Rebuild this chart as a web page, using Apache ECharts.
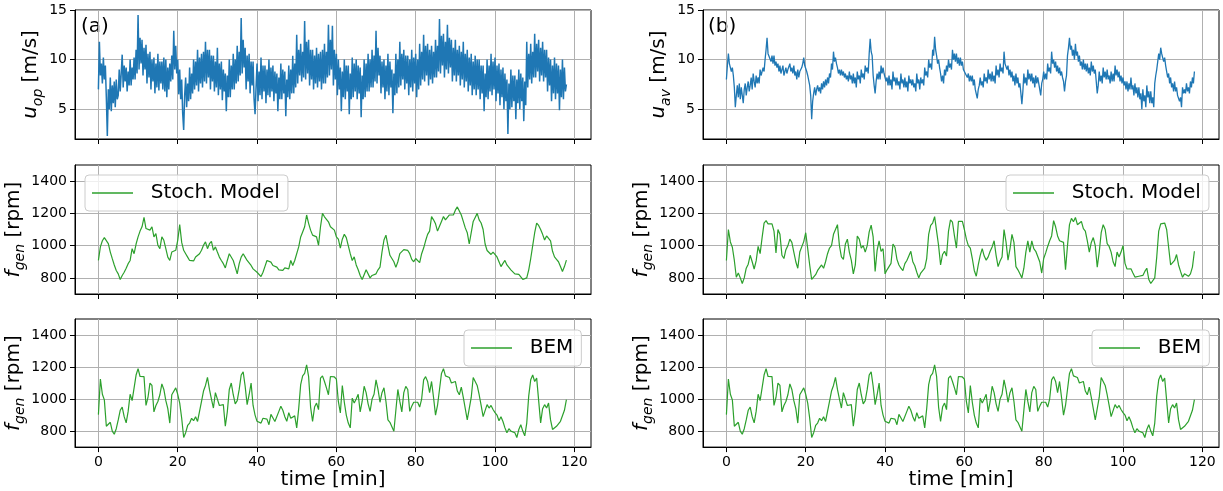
<!DOCTYPE html>
<html>
<head>
<meta charset="utf-8">
<script src="https://cdn.jsdelivr.net/npm/echarts@6/dist/echarts.min.js"></script>
<style>
  html, body { margin: 0; padding: 0; background: #fff; }
  #chart { width: 1223px; height: 491px; }
</style>
</head>
<body>
<div id="chart"></div>
<script>
// Sampling steps, in minutes
const STEP_WIND = 0.25;
const STEP_RPM = 0.5;

// (a) wind speed at the operating point [m/s], one row = 5 min
const uOp = [
  7.0, 11.8, 8.4, 9.6, 7.6, 10.2, 8.0, 9.4, 6.2, 2.3, 7.0, 5.0, 8.2, 4.8, 7.4, 5.6, 7.8, 5.2, 8.0, 6.0,
  6.4, 9.0, 6.8, 8.6, 10.5, 7.2, 9.4, 7.8, 9.2, 6.8, 8.8, 7.4, 10.0, 7.4, 9.2, 8.0, 10.2, 8.0, 11.0, 8.6,
  14.5, 9.0, 12.2, 9.6, 12.0, 8.4, 11.2, 9.0, 11.5, 7.6, 10.6, 8.2, 10.8, 7.0, 10.0, 7.8, 10.2, 6.6, 9.6, 7.2,
  10.6, 6.9, 9.8, 7.6, 9.8, 7.0, 10.2, 6.8, 10.0, 6.2, 9.2, 7.0, 9.6, 7.8, 10.4, 8.0, 12.9, 9.0, 11.4, 8.6,
  10.0, 6.5, 9.0, 6.0, 8.0, 4.6, 2.9, 6.4, 8.2, 5.2, 7.6, 5.8, 9.2, 6.0, 8.6, 6.6, 10.0, 7.0, 9.8, 7.4,
  11.0, 6.8, 10.2, 7.6, 10.6, 7.2, 10.8, 7.8, 11.8, 7.6, 11.0, 8.2, 11.0, 7.0, 10.4, 7.8, 10.4, 6.8, 9.8, 7.2,
  11.2, 6.4, 9.6, 7.0, 9.8, 5.9, 9.0, 6.8, 8.6, 4.8, 8.4, 6.2, 10.0, 6.2, 9.4, 7.0, 10.6, 7.0, 10.0, 7.6,
  11.4, 7.8, 10.8, 8.4, 14.2, 8.6, 12.0, 9.2, 11.2, 7.0, 10.4, 7.8, 10.6, 6.6, 9.8, 7.4, 9.8, 6.0, 4.5, 7.2,
  9.6, 5.8, 8.8, 6.4, 10.2, 6.0, 9.4, 6.8, 9.4, 5.6, 9.0, 6.4, 10.0, 6.2, 9.2, 6.8, 9.4, 5.8, 8.8, 6.6,
  8.6, 4.8, 8.2, 6.0, 9.6, 6.0, 9.0, 6.6, 8.8, 4.3, 8.0, 6.2, 9.4, 6.0, 9.0, 6.6, 10.4, 6.6, 9.6, 7.2,
  12.5, 7.6, 11.0, 8.4, 11.6, 7.8, 10.8, 8.2, 13.9, 8.0, 11.8, 8.6, 12.0, 7.4, 11.0, 8.0, 11.0, 7.0, 10.4, 7.6,
  11.2, 7.2, 10.6, 7.8, 10.8, 7.0, 11.0, 7.6, 11.6, 7.6, 10.8, 8.2, 13.5, 8.4, 12.0, 9.0, 13.4, 7.4, 11.0, 8.0,
  10.6, 6.4, 10.0, 7.0, 9.2, 4.8, 8.8, 6.2, 10.0, 6.0, 9.4, 6.8, 9.4, 4.5, 8.6, 6.0, 10.2, 6.2, 9.6, 6.8,
  10.0, 6.0, 9.4, 6.6, 9.2, 4.2, 8.4, 6.0, 10.0, 6.2, 9.6, 6.8, 10.6, 6.8, 10.0, 7.2, 11.0, 7.2, 10.4, 7.8,
  12.9, 7.6, 11.2, 8.4, 10.4, 6.6, 9.8, 7.2, 10.0, 6.0, 9.4, 6.8, 10.6, 6.4, 9.8, 7.2, 9.0, 4.6, 8.6, 6.4,
  10.6, 6.6, 10.0, 7.2, 11.8, 7.4, 10.6, 8.0, 11.0, 7.0, 10.4, 7.6, 10.4, 6.4, 10.0, 7.2, 11.0, 6.8, 10.2, 7.6,
  10.6, 6.2, 10.0, 7.0, 11.6, 7.4, 10.8, 8.0, 12.5, 7.8, 11.4, 8.4, 11.6, 7.4, 11.0, 8.0, 11.4, 7.6, 10.8, 8.2,
  12.0, 8.2, 11.4, 8.8, 14.1, 8.6, 12.4, 9.4, 12.6, 8.2, 11.8, 9.0, 13.5, 8.6, 12.2, 9.2, 12.0, 7.8, 11.2, 8.4,
  12.0, 7.8, 11.0, 8.4, 11.4, 7.4, 10.8, 8.0, 11.8, 7.2, 10.6, 7.8, 11.0, 6.8, 10.2, 7.4, 10.6, 6.4, 9.8, 7.0,
  10.4, 6.4, 10.0, 7.0, 10.0, 6.0, 9.4, 6.6, 9.4, 4.8, 8.6, 6.2, 10.0, 6.0, 9.4, 6.8, 10.6, 6.4, 9.8, 7.0,
  10.2, 5.8, 9.4, 6.6, 9.6, 5.4, 9.0, 6.2, 9.2, 5.0, 8.6, 5.8, 8.0, 2.5, 7.6, 5.0, 9.0, 5.2, 8.4, 5.8,
  8.4, 4.0, 8.0, 5.6, 9.0, 5.0, 8.6, 5.8, 8.2, 3.8, 7.8, 5.4, 11.8, 7.2, 10.6, 8.0, 11.6, 7.6, 10.8, 8.2,
  12.6, 8.2, 11.6, 8.8, 12.0, 7.8, 11.2, 8.4, 11.8, 7.8, 11.0, 8.2, 11.0, 6.8, 10.2, 7.4, 10.0, 5.8, 9.4, 6.6,
  10.2, 6.0, 9.6, 6.6, 9.4, 4.9, 9.0, 6.2, 10.0, 6.0, 9.2, 6.8, 7.5
];

// (b) rotor-averaged wind speed [m/s], one row = 5 min
const uAv = [
  8.0, 9.4, 10.6, 9.6, 9.6, 8.8, 9.2, 8.4, 7.2, 5.2, 6.4, 7.4, 6.2, 7.6, 6.0, 7.2, 6.4, 5.6, 7.0, 7.6,
  6.4, 7.2, 7.8, 6.8, 7.4, 8.2, 7.0, 8.6, 7.8, 7.2, 8.4, 7.6, 8.2, 7.6, 9.0, 8.4, 8.4, 9.2, 8.8, 10.0,
  11.0, 12.2, 10.6, 10.4, 10.8, 9.8, 10.4, 9.6, 10.4, 9.4, 9.8, 9.2, 9.6, 8.8, 9.4, 8.6, 9.0, 9.4, 8.4, 8.8,
  9.2, 8.6, 9.0, 8.8, 9.6, 8.8, 9.2, 8.6, 9.4, 8.4, 8.8, 8.0, 9.0, 8.2, 8.8, 8.6, 9.2, 9.6, 10.2, 9.4,
  9.4, 8.8, 8.4, 8.6, 7.4, 6.4, 4.0, 5.8, 6.6, 7.2, 6.4, 7.0, 7.4, 6.8, 7.2, 6.6, 7.6, 7.0, 7.8, 7.2,
  8.0, 7.4, 8.2, 7.6, 8.6, 8.2, 9.6, 9.0, 10.8, 9.8, 10.2, 9.6, 9.2, 8.6, 9.0, 8.4, 9.0, 8.4, 8.8, 8.2,
  8.6, 8.0, 8.4, 7.8, 8.8, 8.0, 8.4, 7.6, 8.6, 7.6, 8.2, 7.2, 8.8, 8.0, 8.4, 7.6, 9.0, 8.2, 8.6, 8.0,
  9.4, 8.8, 9.2, 8.6, 10.6, 12.1, 10.8, 10.4, 8.4, 7.4, 6.6, 7.8, 8.6, 8.0, 8.8, 8.0, 9.4, 8.6, 9.2, 8.6,
  8.6, 7.8, 8.2, 7.4, 8.4, 7.4, 8.0, 7.0, 8.8, 7.8, 8.2, 7.4, 8.2, 7.4, 7.8, 7.0, 8.6, 7.6, 8.0, 7.2,
  8.2, 7.2, 7.8, 6.8, 8.4, 7.6, 8.0, 7.4, 8.0, 7.2, 7.6, 6.8, 8.6, 7.6, 8.0, 7.0, 8.2, 7.6, 8.0, 7.4,
  9.2, 8.4, 8.8, 8.2, 10.0, 9.2, 9.6, 9.0, 11.0, 10.4, 12.3, 11.0, 10.4, 9.6, 10.0, 9.2, 8.6, 7.8, 8.4, 7.6,
  9.0, 8.4, 9.4, 8.8, 10.0, 9.2, 9.6, 9.0, 11.0, 10.0, 10.6, 9.8, 10.6, 9.6, 10.2, 9.4, 10.2, 9.4, 9.8, 9.0,
  9.2, 8.6, 8.8, 8.2, 8.6, 7.8, 8.4, 7.8, 8.4, 7.4, 8.0, 7.0, 7.2, 6.1, 7.0, 7.4, 8.2, 7.4, 7.8, 7.2,
  8.6, 7.8, 8.2, 7.6, 9.0, 8.0, 8.6, 7.8, 8.8, 7.8, 8.4, 7.6, 9.4, 8.4, 9.0, 8.2, 9.6, 8.8, 9.2, 8.6,
  10.8, 9.6, 9.8, 9.0, 9.4, 8.4, 9.0, 8.2, 8.8, 7.8, 8.4, 7.4, 8.6, 7.6, 8.2, 7.2, 7.6, 6.6, 5.5, 6.8,
  8.6, 7.6, 8.2, 7.4, 9.0, 8.0, 8.6, 7.8, 8.6, 7.6, 8.2, 7.2, 8.4, 7.6, 8.2, 7.6, 7.4, 6.4, 7.6, 8.0,
  8.8, 8.0, 8.6, 8.0, 9.6, 8.8, 9.2, 8.6, 10.8, 9.6, 10.0, 9.2, 9.8, 8.8, 9.4, 8.6, 9.2, 8.4, 8.8, 8.2,
  7.8, 6.8, 7.8, 8.4, 10.4, 11.2, 12.2, 11.0, 11.4, 10.4, 11.0, 10.0, 11.6, 10.4, 10.8, 9.8, 10.4, 9.4, 9.8, 9.0,
  10.0, 9.0, 9.6, 8.8, 9.6, 8.6, 9.2, 8.4, 9.8, 8.8, 9.4, 8.6, 9.0, 7.8, 6.6, 7.4, 8.8, 7.8, 8.4, 7.6,
  9.2, 8.2, 8.8, 8.0, 9.0, 8.0, 8.4, 7.6, 8.8, 7.8, 8.6, 7.8, 9.4, 8.4, 9.0, 8.2, 8.8, 7.8, 8.4, 7.6,
  8.2, 7.4, 7.8, 7.0, 7.8, 6.8, 7.6, 7.0, 8.2, 7.0, 7.4, 6.4, 7.6, 6.6, 7.2, 6.2, 7.2, 6.0, 6.6, 5.0,
  7.0, 5.8, 6.4, 5.2, 7.4, 6.2, 6.8, 5.6, 6.8, 5.6, 6.2, 5.2, 7.6, 8.4, 9.0, 9.8, 10.6, 10.0, 11.2, 10.6,
  10.6, 9.8, 10.2, 9.4, 9.2, 8.2, 8.6, 7.6, 8.2, 7.2, 7.6, 6.8, 7.8, 6.8, 7.2, 6.4, 6.6, 5.8, 6.2, 5.2,
  7.2, 6.6, 7.0, 6.6, 7.6, 6.8, 7.2, 6.6, 7.8, 7.2, 8.2, 7.6, 8.8
];

// Generator speed, stochastic model driven by (a) [rpm], one row = 5 min
const fStochA = [
  908, 992, 1030, 1050, 1045, 1012, 960, 919, 880, 846,
  825, 790, 815, 835, 860, 888, 908, 981, 950, 1010,
  1054, 1090, 1117, 1175, 1106, 1115, 1096, 1117, 1054, 1075,
  1002, 981, 1054, 1033, 981, 929, 908, 960, 950, 971,
  1033, 1130, 1020, 971, 950, 929, 908, 919, 905, 929,
  919, 950, 971, 1002, 1023, 981, 1012, 1027, 971, 992,
  960, 929, 908, 888, 862, 908, 950, 960, 908, 867,
  825, 888, 929, 950, 929, 908, 908, 877, 856, 846,
  835, 825, 808, 835, 871, 908, 919, 898, 877, 867,
  867, 850, 856, 846, 862, 867, 856, 908, 877, 908,
  919, 992, 1054, 1085, 1117, 1190, 1138, 1096, 1065, 1075,
  1054, 1002, 1117, 1200, 1179, 1190, 1148, 1117, 1127, 1096,
  1054, 1040, 985, 1040, 1070, 1050, 1000, 950, 908, 930,
  880, 850, 815, 790, 820, 850, 860, 800, 815, 820,
  825, 850, 867, 960, 1035, 1065, 1000, 940, 920, 900,
  865, 900, 950, 960, 975, 985, 970, 950, 915, 900,
  920, 908, 895, 950, 985, 1030, 1070, 1090, 1180, 1160,
  1135, 1090, 1120, 1150, 1180, 1160, 1150, 1190, 1185, 1190,
  1220, 1240, 1250, 1190, 1150, 1110, 1080, 1010, 1080, 1150,
  1175, 1200, 1160, 1140, 1100, 1010, 970, 960, 945, 960,
  971, 930, 900, 870, 890, 908, 880, 865, 850, 840,
  825, 830, 822, 812, 790, 780, 800, 850, 920, 1000,
  1080, 1140, 1125, 1100, 1070, 1035, 1060, 1055, 1030, 965,
  930, 915, 900, 870, 840, 870, 910
];

// Generator speed, stochastic model driven by (b) [rpm], one row = 5 min
const fStochB = [
  908, 1100, 1023, 990, 908, 804, 830, 800, 765, 800,
  860, 885, 940, 900, 855, 905, 995, 950, 1050, 1140,
  1155, 1135, 1127, 1135, 1090, 955, 1100, 1070, 940, 920,
  975, 1000, 1040, 1020, 960, 900, 860, 960, 971, 1025,
  1080, 981, 880, 790, 800, 820, 846, 850, 880, 860,
  900, 950, 985, 1000, 1070, 1100, 1130, 1000, 930, 915,
  1010, 1040, 960, 908, 825, 880, 1060, 1040, 985, 1000,
  960, 1000, 1085, 1127, 1054, 840, 971, 1030, 965, 981,
  825, 850, 870, 890, 1010, 990, 915, 880, 860, 845,
  888, 908, 900, 965, 900, 875, 835, 800, 830, 825,
  860, 920, 1070, 1125, 1140, 1180, 1170, 1000, 880, 945,
  965, 935, 1090, 1160, 1145, 1060, 985, 1150, 1138, 1150,
  1100, 1040, 1000, 985, 920, 846, 810, 880, 940, 981,
  935, 910, 930, 965, 992, 1030, 940, 870, 905, 929,
  1100, 1023, 910, 980, 1070, 1020, 870, 850, 825, 800,
  860, 960, 1030, 960, 1030, 981, 965, 955, 900, 830,
  920, 955, 995, 1030, 1060, 1155, 1117, 1060, 1030, 1040,
  1020, 850, 1000, 1130, 1169, 1148, 1175, 1130, 1140, 1150,
  1105, 1090, 1030, 960, 1020, 1050, 1000, 867, 960, 1080,
  1130, 1100, 1012, 995, 960, 900, 870, 960, 930, 960,
  1000, 890, 855, 846, 856, 830, 805, 794, 810, 800,
  815, 840, 860, 790, 765, 755, 800, 929, 1090, 1135,
  1145, 1140, 1100, 990, 880, 888, 908, 945, 880, 840,
  804, 825, 815, 810, 825, 867, 965
];

// Generator speed, BEM reference simulation [rpm], one row = 5 min
const fBem = [
  903, 1125, 1030, 995, 830, 830, 855, 800, 780, 815,
  870, 930, 950, 890, 851, 923, 1030, 990, 1070, 1150,
  1190, 1141, 1135, 1140, 960, 1010, 1100, 1085, 920, 960,
  985, 1027, 1095, 1060, 990, 940, 850, 1027, 1037, 1070,
  1030, 975, 880, 760, 790, 835, 850, 880, 865, 890,
  860, 850, 985, 1050, 1085, 1135, 1060, 1000, 944, 1040,
  1000, 960, 950, 965, 830, 920, 1060, 1100, 1027, 970,
  990, 1060, 1150, 1170, 1080, 965, 1027, 1100, 960, 900,
  861, 872, 850, 880, 888, 875, 840, 905, 900, 860,
  855, 923, 955, 930, 890, 861, 915, 880, 870, 895,
  820, 940, 1090, 1145, 1160, 1214, 1140, 950, 860, 950,
  975, 934, 1131, 1145, 1110, 1070, 1027, 1141, 1135, 1138,
  1125, 985, 913, 1085, 980, 900, 850, 820, 1006, 975,
  1000, 1030, 920, 985, 1080, 1040, 970, 923, 1000, 1030,
  1120, 1060, 980, 1040, 1070, 985, 870, 855, 845, 799,
  930, 1060, 985, 920, 1040, 1079, 1060, 923, 955, 980,
  985, 980, 950, 1000, 1120, 1140, 1110, 1040, 1110, 1010,
  900, 960, 1060, 1160, 1190, 1145, 1150, 1135, 1100, 1105,
  1110, 1050, 1027, 1075, 1010, 940, 870, 860, 1010, 1135,
  1110, 1085, 1027, 960, 890, 900, 965, 944, 960, 935,
  915, 900, 865, 890, 860, 820, 790, 815, 800, 810,
  790, 760, 810, 840, 800, 770, 850, 1020, 1120, 1150,
  1110, 1131, 1141, 851, 940, 965, 944, 975, 870, 810,
  805, 830, 825, 861, 860, 930, 996
];

// Tick positions
const timeTicks = [0, 20, 40, 60, 80, 100, 120];
const windTicks = [5, 10, 15];
const rpmTicks = [800, 1000, 1200, 1400];

const FONT = 'DejaVu Sans';
const BLUE = '#1f77b4';
const GREEN = '#2ca02c';
const GRID_GRAY = '#b0b0b0';

const colLeft = [75, 703];
const rowTop = [10, 165, 319];
const PLOT_W = 516;
const PLOT_H = 129;

const panels = [
  { col: 0, row: 0, data: uOp, kind: 'wind', sub: 'op', name: 'u_op', color: BLUE, width: 1.5 },
  { col: 0, row: 1, data: fStochA, kind: 'rpm', name: 'Stoch. Model', color: GREEN, width: 1.2 },
  { col: 0, row: 2, data: fBem, kind: 'rpm', name: 'BEM', color: GREEN, width: 1.2 },
  { col: 1, row: 0, data: uAv, kind: 'wind', sub: 'av', name: 'u_av', color: BLUE, width: 1.3 },
  { col: 1, row: 1, data: fStochB, kind: 'rpm', name: 'Stoch. Model', color: GREEN, width: 1.2 },
  { col: 1, row: 2, data: fBem, kind: 'rpm', name: 'BEM', color: GREEN, width: 1.2 }
];

// Axis-title pieces: italic symbol, lowered italic subscript, upright unit
const nameRich = {
  i: { fontFamily: FONT, fontStyle: 'italic', fontSize: 20, lineHeight: 24, verticalAlign: 'top', color: '#000' },
  s: { fontFamily: FONT, fontStyle: 'italic', fontSize: 14, lineHeight: 24, verticalAlign: 'bottom', color: '#000' },
  r: { fontFamily: FONT, fontSize: 20, lineHeight: 24, verticalAlign: 'top', color: '#000' }
};

const grids = [], xAxes = [], yAxes = [], series = [];

panels.forEach((p, k) => {
  grids.push({
    left: colLeft[p.col], top: rowTop[p.row], width: PLOT_W, height: PLOT_H,
    show: true, borderColor: '#000', borderWidth: 1, backgroundColor: 'transparent',
    containLabel: false
  });

  const bottomRow = p.row === 2;
  xAxes.push({
    type: 'value', gridIndex: k, min: -5.9, max: 124.2, splitNumber: 6,
    axisLine: { show: true, onZero: false, lineStyle: { color: '#000', width: 1 } },
    axisTick: { show: true, length: 5, customValues: timeTicks, lineStyle: { color: '#000', width: 1 } },
    axisLabel: {
      show: bottomRow, customValues: timeTicks, margin: 8,
      color: '#000', fontFamily: FONT, fontSize: 14, formatter: (v) => String(v)
    },
    splitLine: { show: true, lineStyle: { color: GRID_GRAY, width: 1 } },
    name: bottomRow ? 'time [min]' : '',
    nameLocation: 'middle', nameGap: 20,
    nameTextStyle: { color: '#000', fontFamily: FONT, fontSize: 20 }
  });

  const wind = p.kind === 'wind';
  const ticks = wind ? windTicks : rpmTicks;
  yAxes.push({
    type: 'value', gridIndex: k,
    min: wind ? 2 : 700, max: wind ? 15 : 1500,
    axisLine: { show: true, onZero: false, lineStyle: { color: '#000', width: 1 } },
    axisTick: { show: true, length: 5, customValues: ticks, lineStyle: { color: '#000', width: 1 } },
    axisLabel: {
      show: true, customValues: ticks, margin: 8, color: '#000', fontFamily: FONT, fontSize: 14,
      formatter: (v) => String(v)
    },
    splitLine: { show: true, lineStyle: { color: GRID_GRAY, width: 1 } },
    name: wind ? '{i|u}{s|' + p.sub + '}{r| [m/s]}' : '{i|f}{s|gen}{r| [rpm]}',
    nameLocation: 'middle', nameRotate: 90,
    nameGap: wind ? 21 : 33,
    nameTextStyle: { rich: nameRich }
  });

  const step = wind ? STEP_WIND : STEP_RPM;
  series.push({
    type: 'line', name: p.name, xAxisIndex: k, yAxisIndex: k,
    data: p.data.map((v, i) => [i * step, v]),
    symbol: 'none', showSymbol: false, sampling: null, clip: true,
    lineStyle: { color: p.color, width: p.width },
    itemStyle: { color: p.color },
    emphasis: { disabled: true },
    animation: false
  });
});

function legendAt(name, left, top) {
  return {
    data: [name], left: left, top: top, orient: 'horizontal',
    selectedMode: false,
    backgroundColor: 'rgba(255,255,255,0.8)', borderColor: '#cccccc', borderWidth: 1, borderRadius: 4,
    padding: [8, 8, 8, 7],
    itemWidth: 41, itemHeight: 14,
    icon: 'path://M0,0L41,0L41,1.3L0,1.3Z',
    symbolKeepAspect: true,
    formatter: (n) => '  ' + n,
    textStyle: { color: '#000', fontFamily: FONT, fontSize: 20 }
  };
}

const chart = echarts.init(document.getElementById('chart'), null, { renderer: 'canvas' });
chart.setOption({
  animation: false,
  backgroundColor: '#fff',
  textStyle: { fontFamily: FONT },
  grid: grids,
  xAxis: xAxes,
  yAxis: yAxes,
  series: series,
  legend: [
    legendAt('Stoch. Model', 85, 175),
    legendAt('Stoch. Model', 1006, 175),
    legendAt('BEM', 464, 330),
    legendAt('BEM', 1092, 330)
  ],
  graphic: [
    { type: 'text', left: 81, top: 17, style: { text: '(a)', font: '20px "DejaVu Sans"', fill: '#000' } },
    { type: 'text', left: 708, top: 17, style: { text: '(b)', font: '20px "DejaVu Sans"', fill: '#000' } }
  ]
});
</script>
</body>
</html>
